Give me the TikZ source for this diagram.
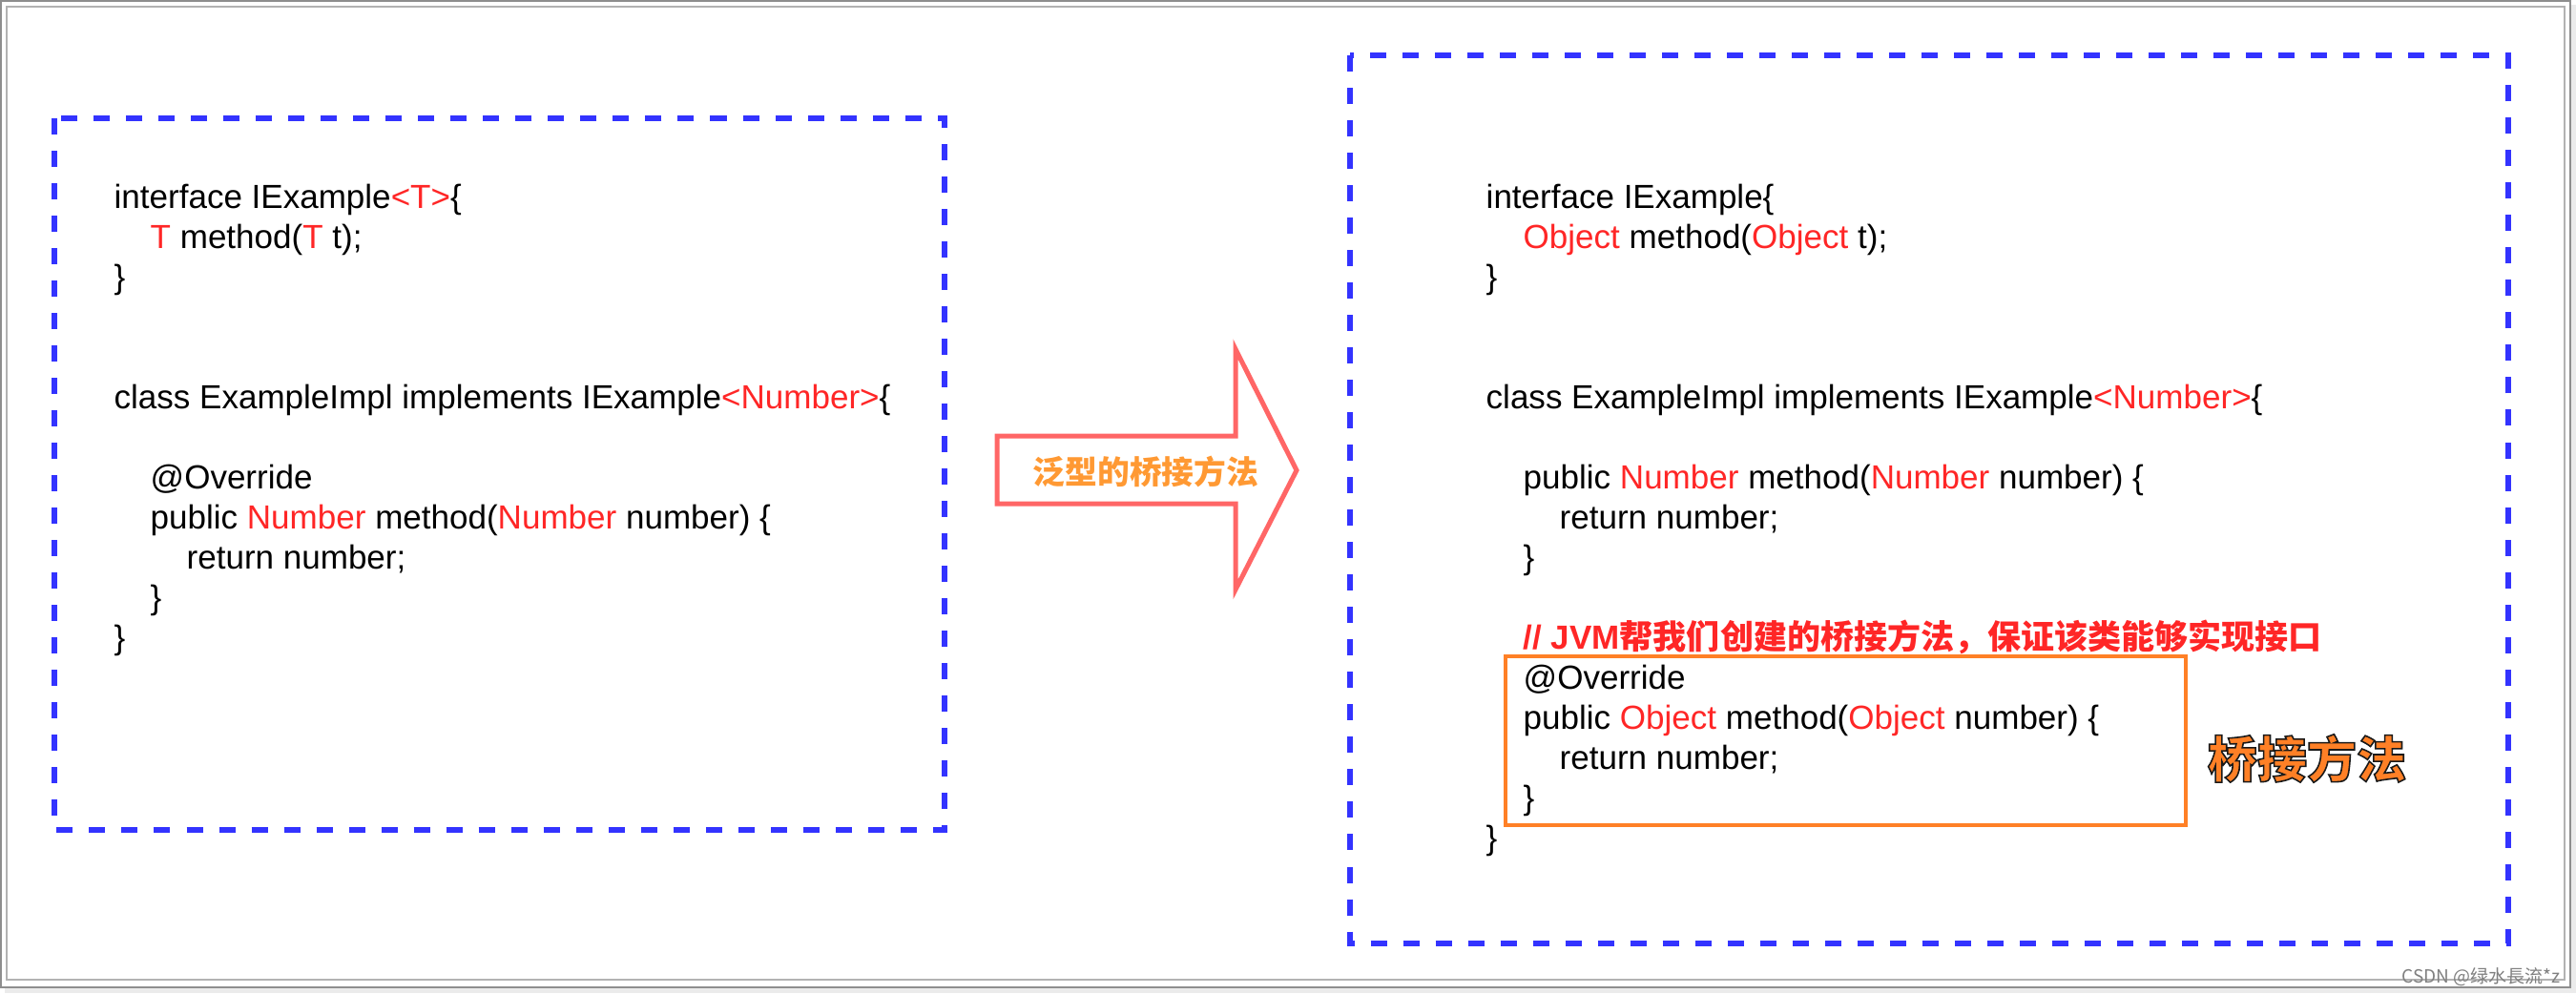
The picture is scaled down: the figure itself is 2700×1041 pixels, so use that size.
\documentclass[tikz,border=0pt]{standalone}
\usepackage{fontspec}
\setmainfont{Liberation Sans}
\newfontfamily\cjk{Noto Sans CJK SC}
\usetikzlibrary{positioning}

\definecolor{boxblue}{RGB}{51,51,255}
\definecolor{codered}{RGB}{255,38,38}
\definecolor{arrowred}{RGB}{255,102,102}
\definecolor{arrowtext}{RGB}{255,153,51}
\definecolor{bridgeorange}{RGB}{255,128,38}
\definecolor{framegrey}{RGB}{178,178,178}

\newcommand{\kw}[1]{\textcolor{codered}{#1}}
% Text mit schwarzer Kontur
\newcommand{\kontur}[1]{\special{pdf:literal direct 0.1 0.1 0.1 RG 2 Tr 0.45 w}#1\special{pdf:literal direct 0 Tr}}

\tikzset{
  code/.style={anchor=base west,inner sep=0pt,
    font=\fontsize{9.96pt}{12pt}\selectfont},
  dashbox/.style={draw=boxblue,line width=0.055cm,
    dash pattern=on 0.17cm off 0.17cm},
  bridgebox/.style={draw=bridgeorange,line width=0.04cm},
}

\begin{document}
\begin{tikzpicture}[x=0.01cm,y=-0.01cm]
\useasboundingbox (0,0) rectangle (2700,1041);

% Rahmen
\fill[black!8] (5,5) rectangle (2700,1041);
\draw[fill=white,draw=framegrey!80!black,line width=0.02cm] (1,1) rectangle (2694,1035);
\draw[framegrey,line width=0.02cm] (7,7) rectangle (2688,1027);

% linke Box
\draw[dashbox] (57,124) rectangle (990,870);
\node[code] (l1) at (119,218) {interface IExample\kw{<T>}\{};
\node[code] (l2) at (157,260) {\kw{T} method(\kw{T} t);};
\node[code] (l3) at (119,302) {\}};
\node[code] (l6) at (119,428) {class ExampleImpl implements IExample\kw{<Number>}\{};
\node[code] (l8) at (157,512) {@Override};
\node[code] (l9) at (157,554) {public \kw{Number} method(\kw{Number} number) \{};
\node[code] (l10) at (195,596) {return number;};
\node[code] (l11) at (157,638) {\}};
\node[code] (l12) at (119,680) {\}};

% Pfeil
\draw[draw=arrowred,fill=white,line width=0.05cm]
  (1045,457) -- (1295,457) -- (1295,366) -- (1359,493)
  -- (1295,618) -- (1295,528) -- (1045,528) -- cycle;
\node[text=arrowtext,font=\cjk\bfseries\fontsize{9.6pt}{11pt}\selectfont]
  (pfeil) at (1201,494) {泛型的桥接方法};

% rechte Box
\draw[dashbox] (1415,58) rectangle (2629,989);
\node[code] (r1) at (1557,218) {interface IExample\{};
\node[code] (r2) at (1596,260) {\kw{Object} method(\kw{Object} t);};
\node[code] (r3) at (1557,302) {\}};
\node[code] (r6) at (1557,428) {class ExampleImpl implements IExample\kw{<Number>}\{};
\node[code] (r8) at (1596,512) {public \kw{Number} method(\kw{Number} number) \{};
\node[code] (r9) at (1634,554) {return number;};
\node[code] (r10) at (1596,596) {\}};
\node[code,text=codered] (r12) at (1596,680)
  {\bfseries // JVM{\cjk\bfseries 帮我们创建的桥接方法，保证该类能够实现接口}};
\node[code] (r13) at (1596,722) {@Override};
\node[code] (r14) at (1596,764) {public \kw{Object} method(\kw{Object} number) \{};
\node[code] (r15) at (1634,806) {return number;};
\node[code] (r16) at (1596,848) {\}};
\node[code] (r17) at (1557,890) {\}};

\draw[bridgebox] (1578,688) rectangle (2291,865);

\node[text=bridgeorange,font=\cjk\bfseries\fontsize{14.8pt}{16pt}\selectfont]
  (bruecke) at (2418,795) {\kontur{桥接方法}};

% Wasserzeichen
\node[anchor=base east,inner sep=0pt,text=black!50,
  font=\cjk\fontsize{5.4pt}{6pt}\selectfont] (csdn) at (2684,1030) {CSDN @绿水長流*z};

\end{tikzpicture}
\end{document}
